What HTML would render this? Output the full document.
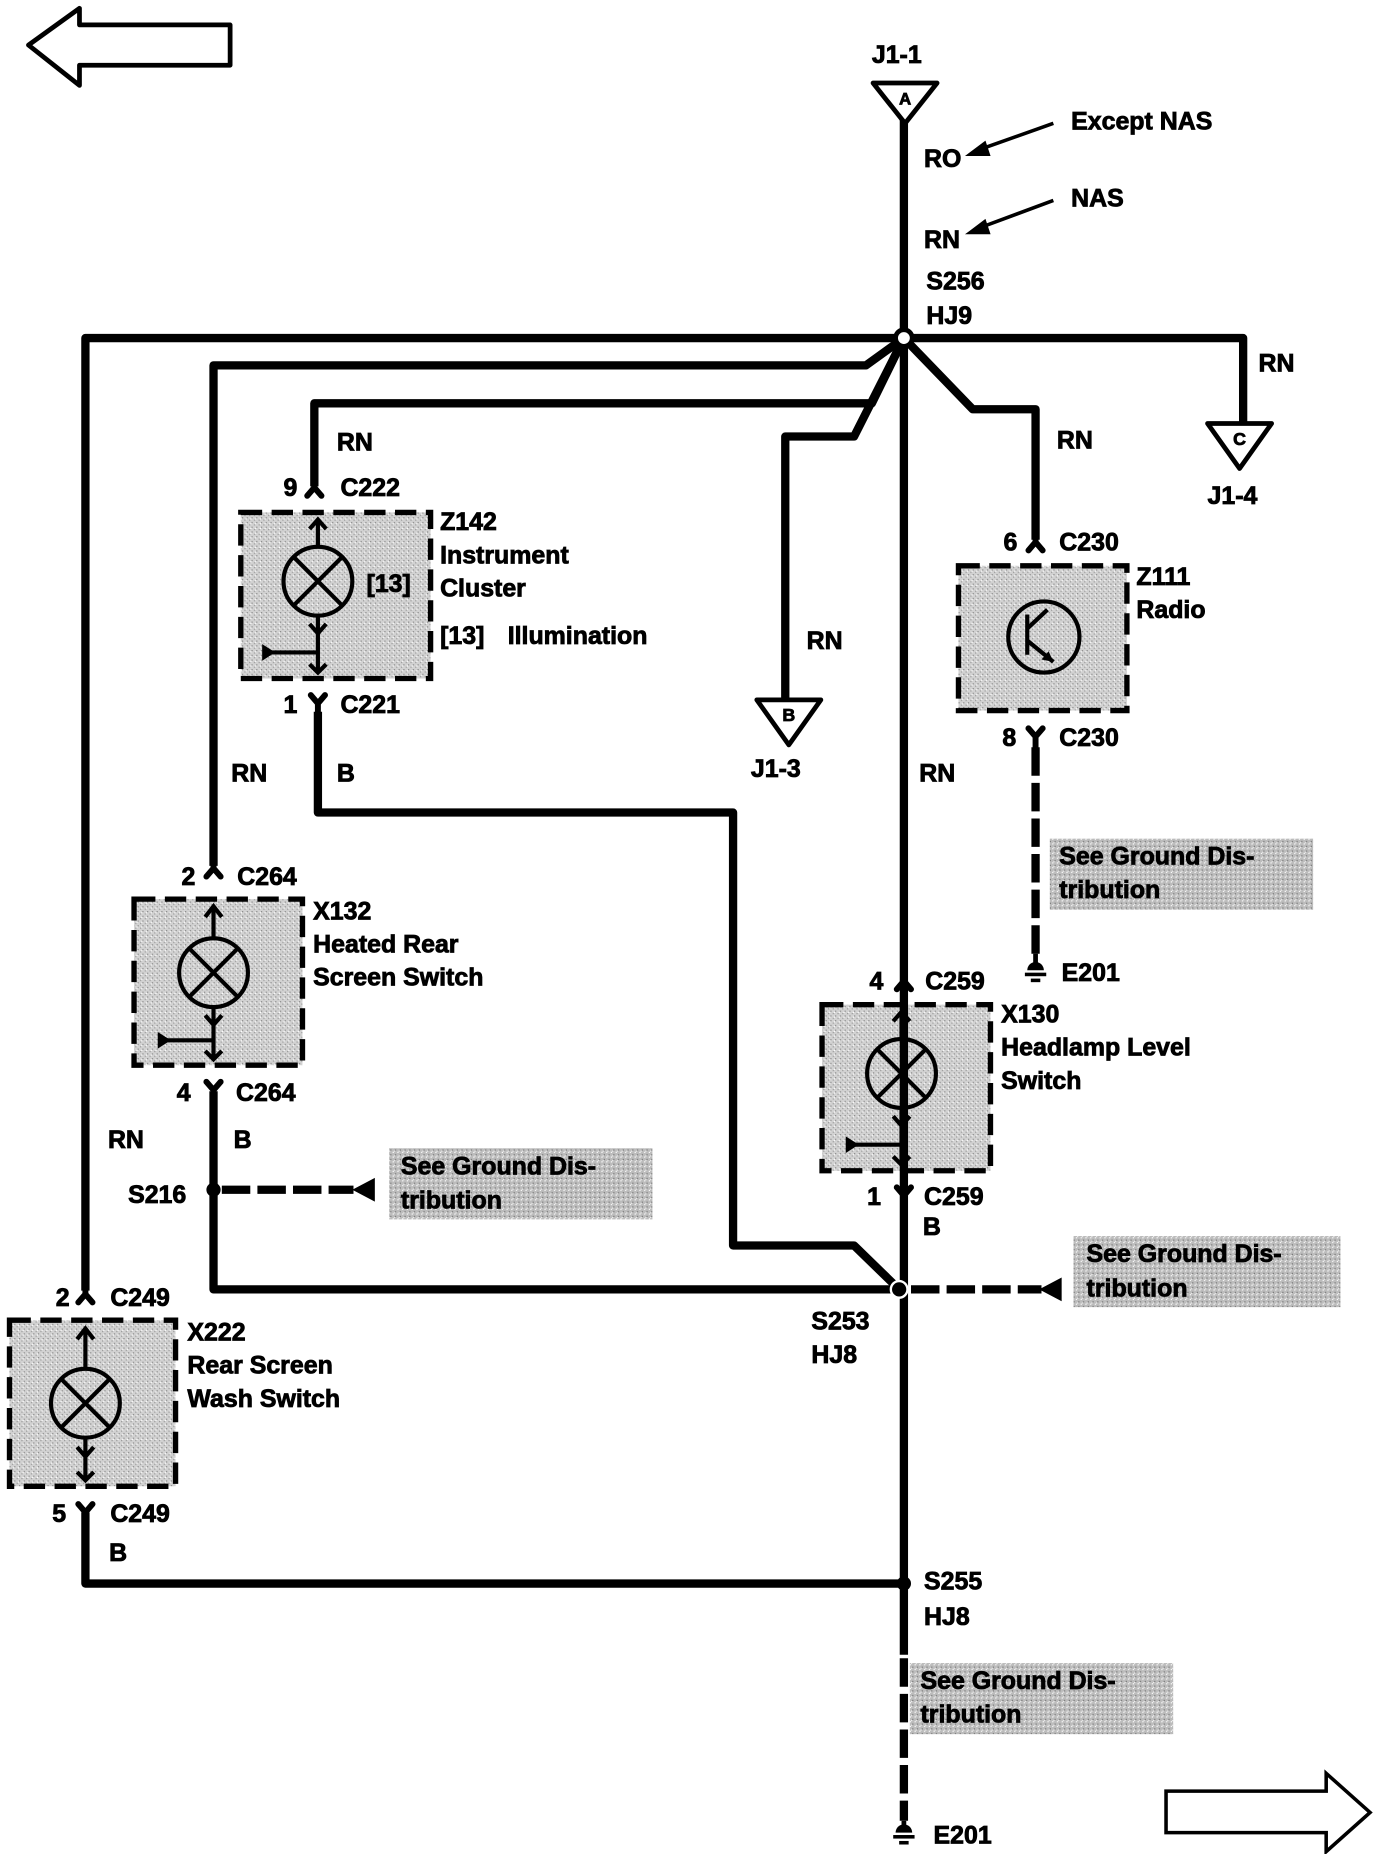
<!DOCTYPE html>
<html><head><meta charset="utf-8"><style>
html,body{margin:0;padding:0;background:#fff;}
svg{display:block;}
text{font-family:"Liberation Sans",sans-serif;font-weight:bold;font-size:21px;fill:#000;stroke:#000;stroke-width:0.7px;}
</style></head><body>
<svg width="1376" height="1854" viewBox="0 0 1160 1563" preserveAspectRatio="none" xmlns="http://www.w3.org/2000/svg">
<defs>
<pattern id="st" width="4" height="4" patternUnits="userSpaceOnUse">
<rect width="4" height="4" fill="#d2d2d2"/><rect x="0" y="0" width="1" height="1" fill="#888"/><rect x="2" y="2" width="1" height="1" fill="#999"/><rect x="3" y="1" width="1" height="1" fill="#fff"/>
</pattern>
<pattern id="st2" width="4" height="4" patternUnits="userSpaceOnUse">
<rect width="4" height="4" fill="#bcbcbc"/><rect x="1" y="1" width="1" height="1" fill="#777"/><rect x="3" y="3" width="1" height="1" fill="#fff"/><rect x="0" y="2" width="1" height="1" fill="#eee"/>
</pattern>
</defs>

<polygon points="24,38 67,7 67,21 194,21 194,55 67,55 67,72" fill="none" stroke="#000" stroke-width="4" stroke-linejoin="round"/>
<polygon points="983,1510 1118,1510 1118,1495 1155,1528 1118,1561 1118,1545 983,1545" fill="none" stroke="#000" stroke-width="3"/>

<g stroke="#000" stroke-width="4.5" stroke-dasharray="18,8" fill="url(#st)">
<rect x="203" y="432" width="160" height="140"/>
<rect x="808" y="477" width="142" height="122"/>
<rect x="113" y="758" width="142" height="140"/>
<rect x="693" y="847" width="142" height="140"/>
<rect x="8" y="1113" width="140" height="140"/>
</g>

<g fill="url(#st2)">
<rect x="328" y="968" width="222" height="60"/>
<rect x="905" y="1042" width="225" height="60"/>
<rect x="885" y="707" width="222" height="60"/>
<rect x="767" y="1402" width="222" height="60"/>
</g>

<g fill="none" stroke="#000" stroke-width="7" stroke-linejoin="round">
<line x1="762" y1="100" x2="762" y2="1395"/>
<polyline points="72,1088 72,285 1048,285 1048,358"/>
<polyline points="762,285 730,308 180,308 180,730"/>
<polyline points="762,285 735,340 265,340 265,410"/>
<polyline points="762,285 720,368 662,368 662,590"/>
<polyline points="762,285 820,345 873,345 873,455"/>
<polyline points="268,600 268,685 618,685 618,1050 720,1050 758,1087"/>
<polyline points="180,920 180,1087 762,1087"/>
<polyline points="72,1275 72,1335 762,1335"/>
</g>
<g fill="none" stroke="#000" stroke-width="7" stroke-dasharray="24,6">
<line x1="762" y1="1398" x2="762" y2="1535"/>
<line x1="873" y1="630" x2="873" y2="808"/>
<line x1="187" y1="1003" x2="298" y2="1003"/>
<line x1="768" y1="1087" x2="878" y2="1087"/>
</g>
<polygon points="297,1003 316,993 316,1013" fill="#000"/>
<polygon points="876,1087 895,1077 895,1097" fill="#000"/>

<circle cx="762" cy="285" r="7" fill="#fff" stroke="#000" stroke-width="4"/>
<circle cx="180" cy="1003" r="6" fill="#000"/>
<circle cx="758" cy="1087" r="7" fill="#000" stroke="#fff" stroke-width="2"/>
<circle cx="762" cy="1335" r="6" fill="#000"/>

<g fill="#fff" stroke="#000" stroke-width="4" stroke-linejoin="round">
<polygon points="736,70 790,70 763,104"/>
<polygon points="1018,357 1072,357 1045,395"/>
<polygon points="638,590 692,590 665,628"/>
</g>
<text x="763" y="88" text-anchor="middle" style="font-size:14px">A</text>
<text x="1045" y="375" text-anchor="middle" style="font-size:15px">C</text>
<text x="665" y="608" text-anchor="middle" style="font-size:15px">B</text>

<g fill="none" stroke="#000" stroke-width="5" stroke-linecap="round">
<path d="M265,406 L265,412 M259,418 L265,411 L271,418"/>
<path d="M873,452 L873,458 M867,464 L873,457 L879,464"/>
<path d="M180,727 L180,733 M174,739 L180,732 L186,739"/>
<path d="M762,820 L762,828 M756,834 L762,827 L768,834"/>
<path d="M72,1085 L72,1092 M66,1098 L72,1091 L78,1098"/>
<path d="M262,586 L268,593 L274,586 M268,593 L268,605"/>
<path d="M867,614 L873,621 L879,614 M873,621 L873,632"/>
<path d="M174,912 L180,919 L186,912 M180,919 L180,930"/>
<path d="M756,1001 L762,1008 L768,1001 M762,1008 L762,1020"/>
<path d="M66,1268 L72,1275 L78,1268 M72,1275 L72,1286"/>
</g>

<g fill="none" stroke="#000" stroke-width="3.5">
<circle cx="268" cy="490" r="29"/><path d="M248,470 L288,510 M288,470 L248,510"/>
<path d="M268,461 L268,438 M261,446 L268,438 L275,446 M268,519 L268,567 M261,526 L268,534 L275,526 M261,560 L268,567 L275,560 M228,550 L268,550"/>
<circle cx="180" cy="820" r="29"/><path d="M160,800 L200,840 M200,800 L160,840"/>
<path d="M180,791 L180,764 M173,773 L180,764 L187,773 M180,849 L180,893 M173,856 L180,864 L187,856 M173,886 L180,893 L187,886 M140,877 L180,877"/>
<circle cx="760" cy="905" r="29"/><path d="M740,885 L780,925 M780,885 L740,925"/>
<path d="M760,876 L760,853 M753,861 L760,853 L767,861 M760,934 L760,982 M753,941 L760,949 L767,941 M753,975 L760,982 L767,975 M720,965 L760,965"/>
<circle cx="72" cy="1183" r="29"/><path d="M52,1163 L92,1203 M92,1163 L52,1203"/>
<path d="M72,1154 L72,1120 M65,1129 L72,1120 L79,1129 M72,1212 L72,1248 M65,1220 L72,1228 L79,1220 M65,1241 L72,1248 L79,1241"/>
<circle cx="880" cy="537" r="30"/><path d="M866,518 L866,552 M866,530 L883,514 M866,540 L888,558"/>
</g>
<g fill="#000">
<polygon points="221,543 221,557 232,550"/>
<polygon points="133,870 133,884 144,877"/>
<polygon points="713,958 713,972 724,965"/>
<polygon points="888,558 878,556 884,549"/>
</g>
<g stroke="#000" stroke-width="3" fill="#000">
<line x1="888" y1="104" x2="826" y2="126"/><polygon points="818,130 830,121 833,130"/>
<line x1="888" y1="169" x2="826" y2="192"/><polygon points="818,196 830,187 833,196"/>
</g>
<g fill="#000">
<path d="M866,818 a7,7 0 0 1 14,0 z"/><rect x="864" y="820" width="18" height="3"/><rect x="869" y="825" width="8" height="3"/><rect x="871" y="804" width="4" height="10"/>
<path d="M755,1545 a7,7 0 0 1 14,0 z"/><rect x="753" y="1547" width="18" height="3"/><rect x="758" y="1552" width="8" height="3"/><rect x="760" y="1535" width="4" height="6"/>
</g>

<text x="735" y="53">J1-1</text>
<text x="903" y="109">Except NAS</text>
<text x="779" y="141">RO</text>
<text x="903" y="174">NAS</text>
<text x="779" y="209">RN</text>
<text x="781" y="244">S256</text>
<text x="781" y="273">HJ9</text>
<text x="1061" y="313">RN</text>
<text x="1018" y="425">J1-4</text>
<text x="284" y="380">RN</text>
<text x="891" y="378">RN</text>
<text x="239" y="418">9</text><text x="287" y="418">C222</text>
<text x="371" y="447">Z142</text>
<text x="371" y="475">Instrument</text>
<text x="309" y="499">[13]</text><text x="371" y="503">Cluster</text>
<text x="371" y="543">[13]</text><text x="428" y="543">Illumination</text>
<text x="846" y="464">6</text><text x="893" y="464">C230</text>
<text x="958" y="493">Z111</text>
<text x="958" y="521">Radio</text>
<text x="239" y="601">1</text><text x="287" y="601">C221</text>
<text x="680" y="547">RN</text>
<text x="633" y="655">J1-3</text>
<text x="845" y="629">8</text><text x="893" y="629">C230</text>
<text x="195" y="659">RN</text>
<text x="284" y="659">B</text>
<text x="775" y="659">RN</text>
<text x="893" y="729">See Ground Dis-</text>
<text x="893" y="757">tribution</text>
<text x="153" y="746">2</text><text x="200" y="746">C264</text>
<text x="264" y="775">X132</text>
<text x="264" y="803">Heated Rear</text>
<text x="264" y="831">Screen Switch</text>
<text x="895" y="827">E201</text>
<text x="733" y="834">4</text><text x="780" y="834">C259</text>
<text x="844" y="862">X130</text>
<text x="844" y="890">Headlamp Level</text>
<text x="844" y="918">Switch</text>
<text x="149" y="928">4</text><text x="199" y="928">C264</text>
<text x="91" y="968">RN</text>
<text x="197" y="968">B</text>
<text x="108" y="1014">S216</text>
<text x="338" y="990">See Ground Dis-</text>
<text x="338" y="1019">tribution</text>
<text x="731" y="1016">1</text><text x="779" y="1016">C259</text>
<text x="778" y="1041">B</text>
<text x="916" y="1064">See Ground Dis-</text>
<text x="916" y="1093">tribution</text>
<text x="47" y="1101">2</text><text x="93" y="1101">C249</text>
<text x="158" y="1130">X222</text>
<text x="158" y="1158">Rear Screen</text>
<text x="158" y="1186">Wash Switch</text>
<text x="684" y="1121">S253</text>
<text x="684" y="1149">HJ8</text>
<text x="44" y="1283">5</text><text x="93" y="1283">C249</text>
<text x="92" y="1316">B</text>
<text x="779" y="1340">S255</text>
<text x="779" y="1370">HJ8</text>
<text x="776" y="1424">See Ground Dis-</text>
<text x="776" y="1452">tribution</text>
<text x="787" y="1554">E201</text>
</svg>
</body></html>
